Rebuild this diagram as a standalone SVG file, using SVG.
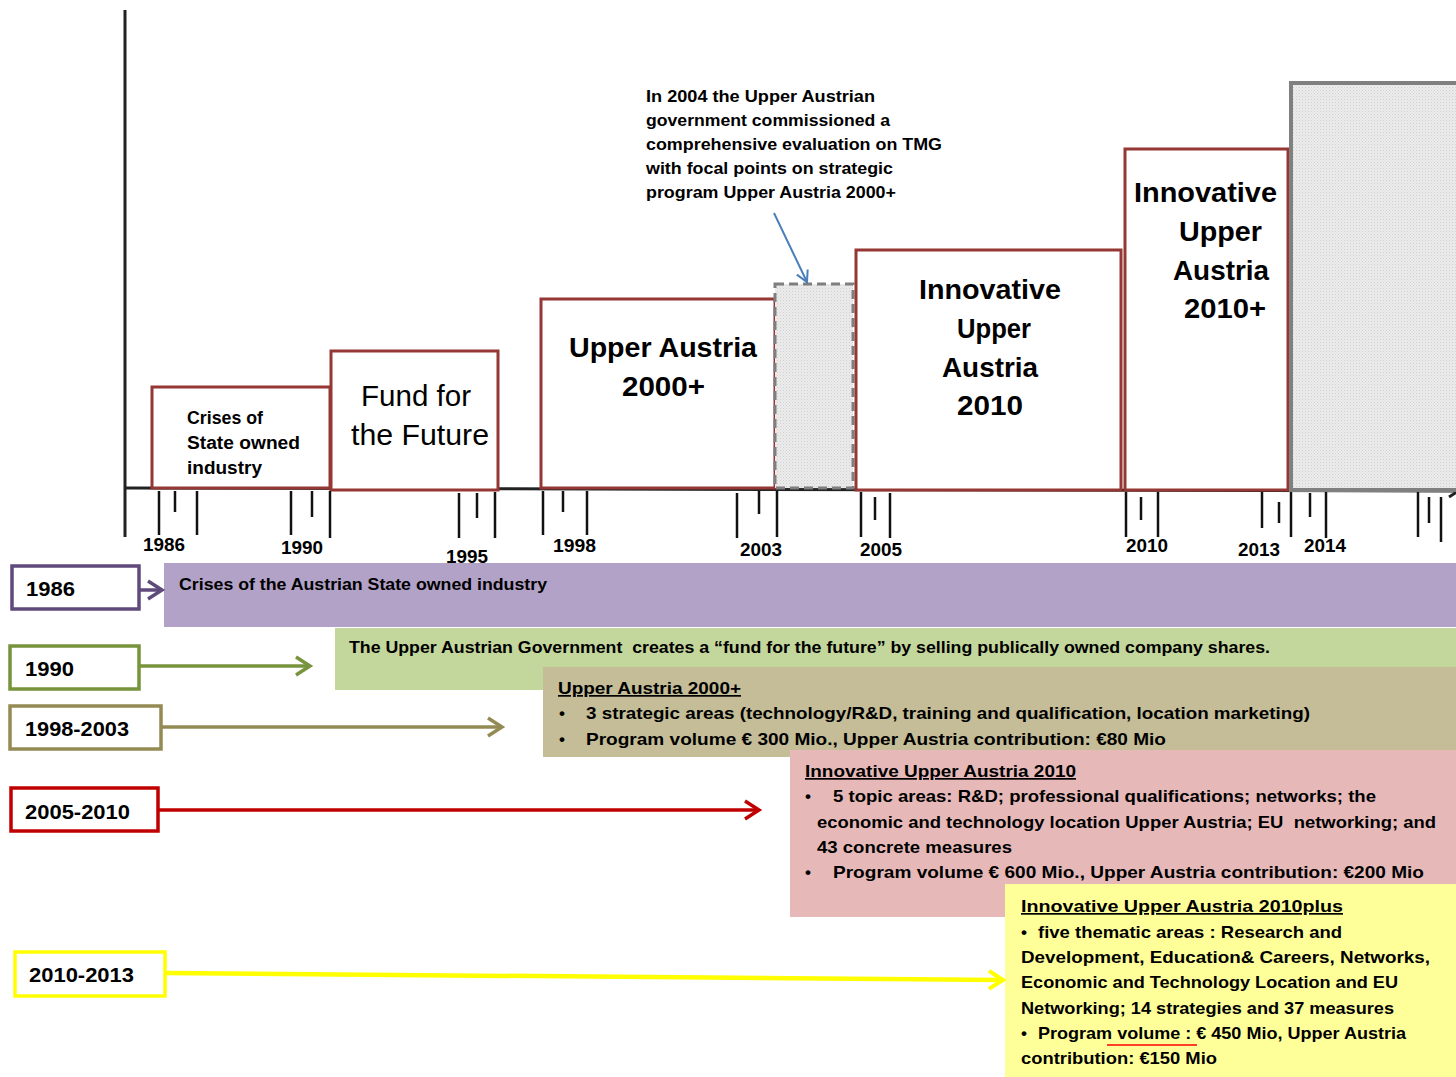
<svg xmlns="http://www.w3.org/2000/svg" width="1456" height="1077" viewBox="0 0 1456 1077">
<defs>
<pattern id="dots" width="3" height="3" patternUnits="userSpaceOnUse">
<rect width="3" height="3" fill="#ececec"/>
<rect x="0" y="0" width="1" height="1" fill="#cfcfcf"/>
<rect x="1.5" y="1.5" width="1" height="1" fill="#d8d8d8"/>
</pattern>
<marker id="mPurple" markerUnits="userSpaceOnUse" markerWidth="20" markerHeight="24" refX="16" refY="11" orient="auto"><path d="M2,2 L16,11 L2,20" fill="none" stroke="#604a7b" stroke-width="3.5"/></marker>
<marker id="mGreen" markerUnits="userSpaceOnUse" markerWidth="20" markerHeight="24" refX="16" refY="11" orient="auto"><path d="M2,2 L16,11 L2,20" fill="none" stroke="#77933c" stroke-width="3.5"/></marker>
<marker id="mOlive" markerUnits="userSpaceOnUse" markerWidth="20" markerHeight="24" refX="16" refY="11" orient="auto"><path d="M2,2 L16,11 L2,20" fill="none" stroke="#948a54" stroke-width="3.5"/></marker>
<marker id="mRed" markerUnits="userSpaceOnUse" markerWidth="20" markerHeight="24" refX="16" refY="11" orient="auto"><path d="M2,2 L16,11 L2,20" fill="none" stroke="#c00000" stroke-width="3.5"/></marker>
<marker id="mYellow" markerUnits="userSpaceOnUse" markerWidth="20" markerHeight="24" refX="16" refY="11" orient="auto"><path d="M2,2 L16,11 L2,20" fill="none" stroke="#ffff00" stroke-width="4"/></marker>
<marker id="mBlue" markerUnits="userSpaceOnUse" markerWidth="16" markerHeight="16" refX="12" refY="7" orient="auto"><path d="M1,1 L12,7 L1,13" fill="none" stroke="#4a7ebb" stroke-width="2"/></marker>
</defs>
<style>
text{font-family:"Liberation Sans",Arial,sans-serif;font-weight:bold;fill:#000;white-space:pre}
.box{fill:#fff;stroke:#953735;stroke-width:3}
.big{font-size:28px}
.tick{stroke:#111;stroke-width:2.5}
.yr{font-size:18px}
.leg{font-size:20px}
.bt{font-size:17px}
.legbox{fill:#fff;stroke-width:3.5}
.u{text-decoration:underline}
</style>
<rect width="1456" height="1077" fill="#fff"/>

<!-- axes -->
<g id="axes">
<line x1="125" y1="10" x2="125" y2="537" stroke="#222" stroke-width="3"/>
<line x1="125" y1="488" x2="1456" y2="491" stroke="#222" stroke-width="3"/>
<line x1="1449" y1="497" x2="1460" y2="490" stroke="#222" stroke-width="3"/>
</g>

<!-- timeline boxes -->
<g id="box-crises">
<rect class="box" x="152" y="387" width="178" height="101"/>
<text x="187" y="424" font-size="18" textLength="76" lengthAdjust="spacingAndGlyphs">Crises of</text>
<text x="187" y="449" font-size="18" textLength="113" lengthAdjust="spacingAndGlyphs">State owned</text>
<text x="187" y="474" font-size="18" textLength="75" lengthAdjust="spacingAndGlyphs">industry</text>
</g>
<g id="box-fund">
<rect class="box" x="331" y="351" width="167" height="139"/>
<text x="361" y="406" style="font-weight:normal" font-size="29" textLength="110" lengthAdjust="spacingAndGlyphs">Fund for</text>
<text x="351" y="445" style="font-weight:normal" font-size="29" textLength="138" lengthAdjust="spacingAndGlyphs">the Future</text>
</g>
<g id="box-ua2000">
<rect class="box" x="541" y="299" width="234" height="189"/>
<text class="big" x="569" y="357" textLength="188" lengthAdjust="spacingAndGlyphs">Upper Austria</text>
<text class="big" x="622" y="396" textLength="83" lengthAdjust="spacingAndGlyphs">2000+</text>
</g>
<g id="box-eval">
<rect x="775" y="284" width="78" height="204" fill="url(#dots)" stroke="#7f7f7f" stroke-width="3" stroke-dasharray="9,5"/>
</g>
<g id="box-iua2010">
<rect class="box" x="856" y="250" width="265" height="240"/>
<text class="big" x="919" y="299" textLength="142" lengthAdjust="spacingAndGlyphs">Innovative</text>
<text class="big" x="957" y="338" textLength="74" lengthAdjust="spacingAndGlyphs">Upper</text>
<text class="big" x="942" y="377" textLength="96" lengthAdjust="spacingAndGlyphs">Austria</text>
<text class="big" x="957" y="415" textLength="66" lengthAdjust="spacingAndGlyphs">2010</text>
</g>
<g id="box-iua2010plus">
<rect class="box" x="1125" y="149" width="163" height="341"/>
<text class="big" x="1134" y="202" textLength="143" lengthAdjust="spacingAndGlyphs">Innovative</text>
<text class="big" x="1179" y="241" textLength="83" lengthAdjust="spacingAndGlyphs">Upper</text>
<text class="big" x="1173" y="280" textLength="96" lengthAdjust="spacingAndGlyphs">Austria</text>
<text class="big" x="1184" y="318" textLength="82" lengthAdjust="spacingAndGlyphs">2010+</text>
</g>
<g id="box-future">
<rect x="1291" y="83" width="175" height="407" fill="url(#dots)" stroke="#808080" stroke-width="4"/>
</g>

<!-- ticks -->
<g id="ticks">
<line class="tick" x1="159" y1="491" x2="159" y2="535"/><line class="tick" x1="175" y1="491" x2="175" y2="512"/><line class="tick" x1="197" y1="491" x2="197" y2="535"/>
<line class="tick" x1="291" y1="491" x2="291" y2="535"/><line class="tick" x1="312" y1="491" x2="312" y2="517"/><line class="tick" x1="330" y1="491" x2="330" y2="538"/>
<line class="tick" x1="459" y1="493" x2="459" y2="538"/><line class="tick" x1="477" y1="493" x2="477" y2="518"/><line class="tick" x1="495" y1="492" x2="495" y2="538"/>
<line class="tick" x1="543" y1="491" x2="543" y2="535"/><line class="tick" x1="563" y1="491" x2="563" y2="512"/><line class="tick" x1="587" y1="491" x2="587" y2="535"/>
<line class="tick" x1="737" y1="493" x2="737" y2="538"/><line class="tick" x1="759" y1="491" x2="759" y2="514"/><line class="tick" x1="777" y1="491" x2="777" y2="537"/>
<line class="tick" x1="861" y1="492" x2="861" y2="537"/><line class="tick" x1="875" y1="497" x2="875" y2="520"/><line class="tick" x1="890" y1="493" x2="890" y2="538"/>
<line class="tick" x1="1126" y1="492" x2="1126" y2="537"/><line class="tick" x1="1141" y1="497" x2="1141" y2="520"/><line class="tick" x1="1158" y1="492" x2="1158" y2="537"/>
<line class="tick" x1="1262" y1="492" x2="1262" y2="528"/><line class="tick" x1="1279" y1="502" x2="1279" y2="523"/><line class="tick" x1="1291" y1="492" x2="1291" y2="537"/>
<line class="tick" x1="1310" y1="493" x2="1310" y2="517"/><line class="tick" x1="1326" y1="492" x2="1326" y2="538"/>
<line class="tick" x1="1418" y1="492" x2="1418" y2="537"/><line class="tick" x1="1429" y1="497" x2="1429" y2="523"/><line class="tick" x1="1441" y1="497" x2="1441" y2="542"/>
</g>
<g id="year-labels">
<text class="yr" x="143" y="551" textLength="42" lengthAdjust="spacingAndGlyphs">1986</text>
<text class="yr" x="281" y="554" textLength="42" lengthAdjust="spacingAndGlyphs">1990</text>
<text class="yr" x="446" y="563" textLength="42" lengthAdjust="spacingAndGlyphs">1995</text>
<text class="yr" x="553" y="552" textLength="43" lengthAdjust="spacingAndGlyphs">1998</text>
<text class="yr" x="740" y="556" textLength="42" lengthAdjust="spacingAndGlyphs">2003</text>
<text class="yr" x="860" y="556" textLength="42" lengthAdjust="spacingAndGlyphs">2005</text>
<text class="yr" x="1126" y="552" textLength="42" lengthAdjust="spacingAndGlyphs">2010</text>
<text class="yr" x="1238" y="556" textLength="42" lengthAdjust="spacingAndGlyphs">2013</text>
<text class="yr" x="1304" y="552" textLength="42" lengthAdjust="spacingAndGlyphs">2014</text>
</g>

<!-- annotation -->
<g id="annotation">
<text class="bt" x="646" y="102" textLength="229" lengthAdjust="spacingAndGlyphs">In 2004 the Upper Austrian</text>
<text class="bt" x="646" y="126" textLength="244" lengthAdjust="spacingAndGlyphs">government commissioned a</text>
<text class="bt" x="646" y="150" textLength="296" lengthAdjust="spacingAndGlyphs">comprehensive evaluation on TMG</text>
<text class="bt" x="646" y="174" textLength="247" lengthAdjust="spacingAndGlyphs">with focal points on strategic</text>
<text class="bt" x="646" y="198" textLength="250" lengthAdjust="spacingAndGlyphs">program Upper Austria 2000+</text>
</g>

<!-- banners -->
<g id="banner-1986">
<rect x="164" y="563" width="1292" height="64" fill="#b2a2c7"/>
<text class="bt" x="179" y="590" textLength="368" lengthAdjust="spacingAndGlyphs">Crises of the Austrian State owned industry</text>
</g>
<g id="banner-1990">
<rect x="335" y="628" width="1121" height="62" fill="#c3d69b"/>
<text class="bt" x="349" y="653" textLength="921" lengthAdjust="spacingAndGlyphs">The Upper Austrian Government  creates a “fund for the future” by selling publically owned company shares.</text>
</g>
<g id="banner-1998">
<rect x="543" y="667" width="913" height="90" fill="#c4bd97"/>
<text class="bt u" x="558" y="694" textLength="183" lengthAdjust="spacingAndGlyphs">Upper Austria 2000+</text>
<text class="bt" x="559" y="719">•</text>
<text class="bt" x="586" y="719" textLength="724" lengthAdjust="spacingAndGlyphs">3 strategic areas (technology/R&amp;D, training and qualification, location marketing)</text>
<text class="bt" x="559" y="745">•</text>
<text class="bt" x="586" y="745" textLength="580" lengthAdjust="spacingAndGlyphs">Program volume € 300 Mio., Upper Austria contribution: €80 Mio</text>
</g>
<g id="banner-2005">
<rect x="790" y="750" width="666" height="167" fill="#e6b9b8"/>
<text class="bt u" x="805" y="777" textLength="271" lengthAdjust="spacingAndGlyphs">Innovative Upper Austria 2010</text>
<text class="bt" x="805" y="802">•</text>
<text class="bt" x="833" y="802" textLength="543" lengthAdjust="spacingAndGlyphs">5 topic areas: R&amp;D; professional qualifications; networks; the</text>
<text class="bt" x="817" y="828" textLength="619" lengthAdjust="spacingAndGlyphs">economic and technology location Upper Austria; EU  networking; and</text>
<text class="bt" x="817" y="853" textLength="195" lengthAdjust="spacingAndGlyphs">43 concrete measures</text>
<text class="bt" x="805" y="878">•</text>
<text class="bt" x="833" y="878" textLength="591" lengthAdjust="spacingAndGlyphs">Program volume € 600 Mio., Upper Austria contribution: €200 Mio</text>
</g>
<g id="banner-2010">
<rect x="1005" y="884" width="451" height="193" fill="#ffff99"/>
<text class="bt u" x="1021" y="912" textLength="322" lengthAdjust="spacingAndGlyphs">Innovative Upper Austria 2010plus</text>
<text class="bt" x="1021" y="938">•</text>
<text class="bt" x="1038" y="938" textLength="304" lengthAdjust="spacingAndGlyphs">five thematic areas : Research and</text>
<text class="bt" x="1021" y="963" textLength="409" lengthAdjust="spacingAndGlyphs">Development, Education&amp; Careers, Networks,</text>
<text class="bt" x="1021" y="988" textLength="377" lengthAdjust="spacingAndGlyphs">Economic and Technology Location and EU</text>
<text class="bt" x="1021" y="1014" textLength="373" lengthAdjust="spacingAndGlyphs">Networking; 14 strategies and 37 measures</text>
<text class="bt" x="1021" y="1039">•</text>
<text class="bt" x="1038" y="1039" textLength="368" lengthAdjust="spacingAndGlyphs">Program volume : € 450 Mio, Upper Austria</text>
<line x1="1107" y1="1045" x2="1197" y2="1045" stroke="#ff0000" stroke-width="1.5"/>
<text class="bt" x="1021" y="1064" textLength="196" lengthAdjust="spacingAndGlyphs">contribution: €150 Mio</text>
</g>

<!-- legend boxes -->
<g id="legend-1986">
<rect class="legbox" x="12" y="566" width="127" height="43" stroke="#604a7b"/>
<text class="leg" x="26" y="596" textLength="49" lengthAdjust="spacingAndGlyphs">1986</text>
</g>
<g id="legend-1990">
<rect class="legbox" x="10" y="646" width="129" height="43" stroke="#77933c"/>
<text class="leg" x="25" y="676" textLength="49" lengthAdjust="spacingAndGlyphs">1990</text>
</g>
<g id="legend-1998">
<rect class="legbox" x="10" y="706" width="151" height="43" stroke="#948a54"/>
<text class="leg" x="25" y="736" textLength="104" lengthAdjust="spacingAndGlyphs">1998-2003</text>
</g>
<g id="legend-2005">
<rect class="legbox" x="11" y="788" width="147" height="43" stroke="#c00000"/>
<text class="leg" x="25" y="819" textLength="105" lengthAdjust="spacingAndGlyphs">2005-2010</text>
</g>
<g id="legend-2010">
<rect class="legbox" x="15" y="952" width="150" height="44" stroke="#ffff00"/>
<text class="leg" x="29" y="982" textLength="105" lengthAdjust="spacingAndGlyphs">2010-2013</text>
</g>

<!-- connectors -->
<g id="connectors" fill="none">
<line x1="139" y1="590" x2="162" y2="590" stroke="#604a7b" stroke-width="3.5" marker-end="url(#mPurple)"/>
<line x1="139" y1="666" x2="310" y2="666" stroke="#77933c" stroke-width="3.5" marker-end="url(#mGreen)"/>
<line x1="161" y1="727" x2="502" y2="727" stroke="#948a54" stroke-width="3.5" marker-end="url(#mOlive)"/>
<line x1="158" y1="810" x2="759" y2="810" stroke="#c00000" stroke-width="3.5" marker-end="url(#mRed)"/>
<line x1="165" y1="973" x2="1003" y2="980" stroke="#ffff00" stroke-width="4.5" marker-end="url(#mYellow)"/>
<line x1="774" y1="213" x2="807" y2="282" stroke="#4a7ebb" stroke-width="2" marker-end="url(#mBlue)"/>
</g>
</svg>
